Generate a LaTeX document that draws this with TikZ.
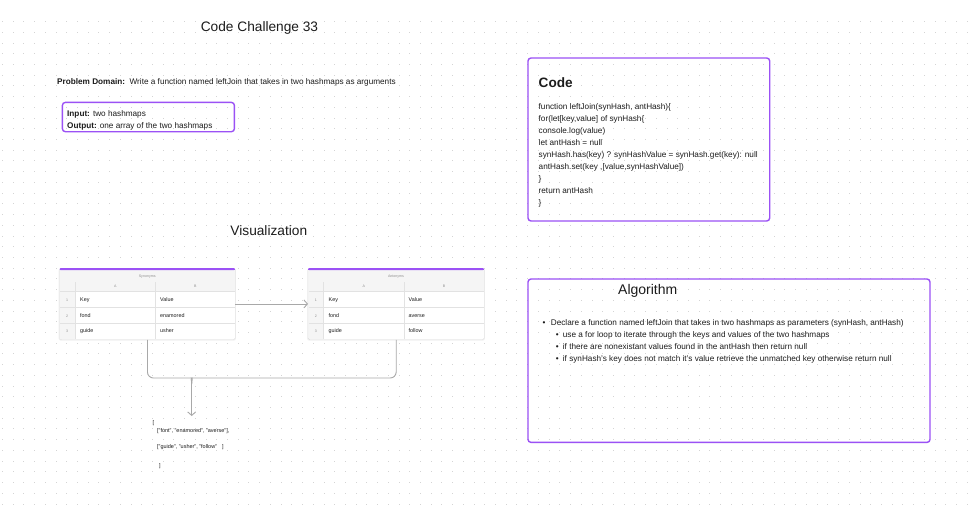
\documentclass[tikz,border=0pt]{standalone}
\usepackage{fontspec}
\setmainfont{Liberation Sans}
\usetikzlibrary{arrows.meta}

\definecolor{figpurple}{RGB}{155,81,245}
\definecolor{wire}{RGB}{168,168,168}
\definecolor{inkdark}{RGB}{28,28,28}
\definecolor{dotgray}{RGB}{212,212,212}
\definecolor{cellgray}{RGB}{245,245,245}
\definecolor{gridline}{RGB}{226,226,226}

\begin{document}
\begin{tikzpicture}[x=1pt,y=-1pt,
  body/.style={inner sep=0pt, anchor=base west, font=\fontsize{8.2}{12}\selectfont, text=inkdark},
  bigtitle/.style={inner sep=0pt, anchor=base, font=\fontsize{13.7}{16}\selectfont, text=inkdark},
  panel/.style={draw=figpurple, line width=1.4pt, rounded corners=3pt, inner sep=0pt, anchor=north west},
  tablebox/.style={draw=black!13, fill=white, rounded corners=1.5pt, inner sep=0pt, anchor=north west,
                   minimum height=71.5pt},
  cell/.style={inner sep=0pt, anchor=base west, font=\fontsize{5.4}{6}\selectfont, text=inkdark},
  tiny/.style={inner sep=0pt, anchor=base, font=\fontsize{3.6}{4}\selectfont, text=black!45},
  restext/.style={inner sep=0pt, anchor=base west, font=\fontsize{5.5}{6}\selectfont, text=inkdark},
  conn/.style={draw=wire, line width=0.9pt},
  tip/.style={-{Straight Barb[length=3.5pt,width=8pt]}}
]
\useasboundingbox (0,0) rectangle (970,514);
\fill[white] (0,0) rectangle (970,514);

% dotted canvas
\foreach \i in {0,...,90}{
  \foreach \j in {0,...,45}{
    \fill[dotgray] ({2.4+10.72*\i-0.5},{21.6+10.72*\j-0.5}) rectangle ++(1,1);
  }
}

% headings
\node[bigtitle] (title) at (259.5,31) {Code Challenge 33};
\node[bigtitle] (viz) at (268.8,235.5) {Visualization};

% problem domain
\node[body] (domain) at (57,84.5) {\textbf{Problem Domain:}\ \ Write a function named leftJoin that takes in two hashmaps as arguments};
\node[panel, minimum width=172pt, minimum height=29.3pt] (inputbox) at (61.7,101.7) {};
\node[body] (inputline) at (67,116.3) {\textbf{Input:} two hashmaps};
\node[body] (outputline) at (67,128.7) {\textbf{Output:} one array of the two hashmaps};

% code panel
\node[panel, minimum width=241.7pt, minimum height=163pt] (codebox) at (527.3,57.3) {};
\node[inner sep=0pt, anchor=base west, font=\fontsize{13.6}{16}\selectfont\bfseries, text=inkdark] (codehead) at (538.5,87.2) {Code};
\node[body] (c1) at (538.5,109.5) {function leftJoin(synHash, antHash)\{};
\node[body] (c2) at (538.5,121.5) {for(let[key,value] of synHash\{};
\node[body] (c3) at (538.5,133.5) {console.log(value)};
\node[body] (c4) at (538.5,145.5) {let antHash = null};
\node[body] (c5) at (538.5,157.5) {synHash.has(key) ? synHashValue = synHash.get(key): null};
\node[body] (c6) at (538.5,169.5) {antHash.set(key ,[value,synHashValue])};
\node[body] (c7) at (538.5,181.5) {\}};
\node[body] (c8) at (538.5,193.5) {return antHash};
\node[body] (c9) at (538.5,205.5) {\}};

% algorithm panel
\node[panel, minimum width=402pt, minimum height=163.4pt] (algobox) at (527.3,278.3) {};
\node[inner sep=0pt, anchor=base west, font=\fontsize{14}{16}\selectfont, text=inkdark] (algohead) at (618,294.3) {Algorithm};
\node[body, anchor=base] (b0) at (544,325.3) {•};
\node[body] (a0) at (550.7,325.3) {Declare a function named leftJoin that takes in two hashmaps as parameters (synHash, antHash)};
\node[body, anchor=base] (b1) at (557.3,337.3) {•};
\node[body] (a1) at (562.7,337.3) {use a for loop to iterate through the keys and values of the two hashmaps};
\node[body, anchor=base] (b2) at (557.3,349.3) {•};
\node[body] (a2) at (562.7,349.3) {if there are nonexistant values found in the antHash then return null};
\node[body, anchor=base] (b3) at (557.3,361.3) {•};
\node[body] (a3) at (562.7,361.3) {if synHash's key does not match it's value retrieve the unmatched key otherwise return null};

% Synonyms table
\begin{scope}[shift={(59.5,268)}]
  \fill[black!6, rounded corners=2pt] (-0.8,0.6) rectangle (176.3,72.6);
  \node[tablebox, minimum width=175.5pt] (syn) at (0,0) {};
  \fill[cellgray] (0.5,2) rectangle (175,23.5);
  \fill[cellgray] (0.5,23.5) rectangle (15.5,71);
  \draw[gridline, line width=0.5pt] (0.5,23.5) -- (175,23.5) (0.5,39.5) -- (175,39.5) (0.5,55) -- (175,55);
  \draw[gridline, line width=0.5pt] (15.5,14) -- (15.5,71) (96,14) -- (96,71);
  \fill[figpurple, rounded corners=1.2pt] (0,0) rectangle (175.5,2.2);
  \fill[figpurple] (0,1.2) rectangle (175.5,2.2);
  \node[tiny] (synname) at (87.75,9.6) {Synonyms};
  \node[tiny] (synA) at (55.75,19.3) {A};
  \node[tiny] (synB) at (135.75,19.3) {B};
  \node[tiny] (syn1) at (7.75,33.3) {1};
  \node[tiny] (syn2) at (7.75,49.3) {2};
  \node[tiny] (syn3) at (7.75,64.3) {3};
  \node[cell] (synk0) at (20.5,33.8) {Key};
  \node[cell] (synv0) at (100.5,33.8) {Value};
  \node[cell] (synk1) at (20.5,49.8) {fond};
  \node[cell] (synv1) at (100.5,49.8) {enamored};
  \node[cell] (synk2) at (20.5,64.8) {guide};
  \node[cell] (synv2) at (100.5,64.8) {usher};
\end{scope}

% Antonyms table
\begin{scope}[shift={(308,268)}]
  \fill[black!6, rounded corners=2pt] (-0.8,0.6) rectangle (176.8,72.6);
  \node[tablebox, minimum width=176pt] (ant) at (0,0) {};
  \fill[cellgray] (0.5,2) rectangle (175.5,23.5);
  \fill[cellgray] (0.5,23.5) rectangle (15.5,71);
  \draw[gridline, line width=0.5pt] (0.5,23.5) -- (175.5,23.5) (0.5,39.5) -- (175.5,39.5) (0.5,55) -- (175.5,55);
  \draw[gridline, line width=0.5pt] (15.5,14) -- (15.5,71) (96,14) -- (96,71);
  \fill[figpurple, rounded corners=1.2pt] (0,0) rectangle (176,2.2);
  \fill[figpurple] (0,1.2) rectangle (176,2.2);
  \node[tiny] (antname) at (88,9.6) {Antonyms};
  \node[tiny] (antA) at (55.75,19.3) {A};
  \node[tiny] (antB) at (136,19.3) {B};
  \node[tiny] (ant1) at (7.75,33.3) {1};
  \node[tiny] (ant2) at (7.75,49.3) {2};
  \node[tiny] (ant3) at (7.75,64.3) {3};
  \node[cell] (antk0) at (20.5,33.8) {Key};
  \node[cell] (antv0) at (100.5,33.8) {Value};
  \node[cell] (antk1) at (20.5,49.8) {fond};
  \node[cell] (antv1) at (100.5,49.8) {averse};
  \node[cell] (antk2) at (20.5,64.8) {guide};
  \node[cell] (antv2) at (100.5,64.8) {follow};
\end{scope}

% connectors
\draw[conn, tip] (syn.east) -- (ant.west);

\coordinate (jl) at (186,378);
\coordinate (jr) at (197.4,378);
\coordinate (jm) at (191.7,384);
\coordinate (jtip) at (191.7,416);
\draw[conn] (syn.south) [rounded corners=6pt] |- (jl) [sharp corners] .. controls (190.2,378) and (191.7,379.8) .. (jm);
\draw[conn] (ant.south) [rounded corners=6pt] |- (jr) [sharp corners] .. controls (193.2,378) and (191.7,379.8) .. (jm);
\draw[conn, tip] (jm) -- (jtip);

% joined result
\node[restext] (r1) at (152.5,424) {[};
\node[restext] (r2) at (157,432) {["font", "enamored", "averse"],};
\node[restext] (r3) at (157,448) {["guide", "usher", "follow"\hspace{5pt}]};
\node[restext] (r4) at (159,467) {]};

\end{tikzpicture}
\end{document}
